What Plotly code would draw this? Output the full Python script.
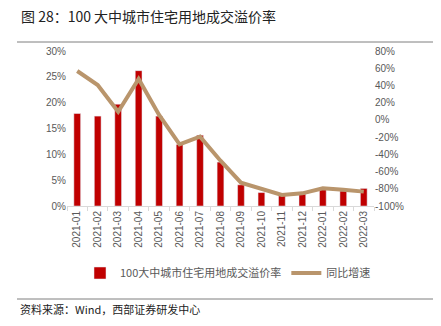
import plotly.graph_objects as go

months = ["2021-01","2021-02","2021-03","2021-04","2021-05","2021-06","2021-07","2021-08",
          "2021-09","2021-10","2021-11","2021-12","2022-01","2022-02","2022-03"]
premium = [17.9, 17.4, 19.7, 26.2, 17.4, 11.9, 13.7, 8.5, 4.1, 2.6, 2.0, 2.3, 3.2, 2.9, 3.4]
yoy = [56.8, 40.5, 9.5, 47.5, 5.7, -28.4, -19.5, -47.4, -72.9, -80.0, -87.2, -85.3, -79.5, -81.0, -83.3]

left_ticks = [0, 5, 10, 15, 20, 25, 30]
right_ticks = [-100, -80, -60, -40, -20, 0, 20, 40, 60, 80]

CJK = "Noto Sans CJK SC"
NUM = "Liberation Sans"
GRAY = "#595959"

fig = go.Figure()
fig.add_trace(go.Bar(x=months, y=premium, name="100大中城市住宅用地成交溢价率",
                     marker_color="#C00000", yaxis="y"))
fig.add_trace(go.Scatter(x=months, y=yoy, name="同比增速", mode="lines",
                         line=dict(color="#B9956C", width=4), yaxis="y2"))

fig.update_layout(
    width=441, height=326,
    margin=dict(l=67, r=67, t=51, b=120),
    paper_bgcolor="white", plot_bgcolor="white",
    bargap=0.67,
    showlegend=True,
    legend=dict(orientation="h", x=(228-67)/307, xanchor="center", y=(206-273)/155, yanchor="middle",
                font=dict(family=CJK, size=11, color=GRAY), itemwidth=30,
                traceorder="normal", tracegroupgap=0, entrywidthmode="pixels"),
    xaxis=dict(type="category", showgrid=False, showline=True, linecolor="#D9D9D9",
               ticks="outside", tickson="boundaries", ticklen=4, tickcolor="#D9D9D9",
               tickangle=-90, tickfont=dict(family=NUM, size=10, color=GRAY)),
    yaxis=dict(range=[0, 30], tickvals=left_ticks, ticktext=[f"{v}%" for v in left_ticks],
               showgrid=False, zeroline=False, showline=False,
               tickfont=dict(family=NUM, size=10, color=GRAY)),
    yaxis2=dict(range=[-100, 80], tickvals=right_ticks, ticktext=[f"{v}%" for v in right_ticks],
                overlaying="y", side="right", showgrid=False, zeroline=False, showline=False,
                tickfont=dict(family=NUM, size=10, color=GRAY)),
)

# title, separators, source
fig.add_annotation(text="图 28：100 大中城市住宅用地成交溢价率", xref="paper", yref="paper",
                   x=(19-67)/307, y=(206-16)/155, xanchor="left", yanchor="middle",
                   showarrow=False, font=dict(family=CJK, size=14, color="#222222"))
fig.add_shape(type="line", xref="paper", yref="paper", x0=(17-67)/307, x1=(433-67)/307,
              y0=(206-42)/155, y1=(206-42)/155, line=dict(color="#7F7F7F", width=1))
fig.add_shape(type="line", xref="paper", yref="paper", x0=(17-67)/307, x1=(433-67)/307,
              y0=(206-299)/155, y1=(206-299)/155, line=dict(color="#7F7F7F", width=1))
fig.add_annotation(text="资料来源：Wind，西部证券研发中心", xref="paper", yref="paper",
                   x=(18-67)/307, y=(206-309)/155, xanchor="left", yanchor="middle",
                   showarrow=False, font=dict(family=CJK, size=11, color="#222222"))

fig.write_html("out.html")
